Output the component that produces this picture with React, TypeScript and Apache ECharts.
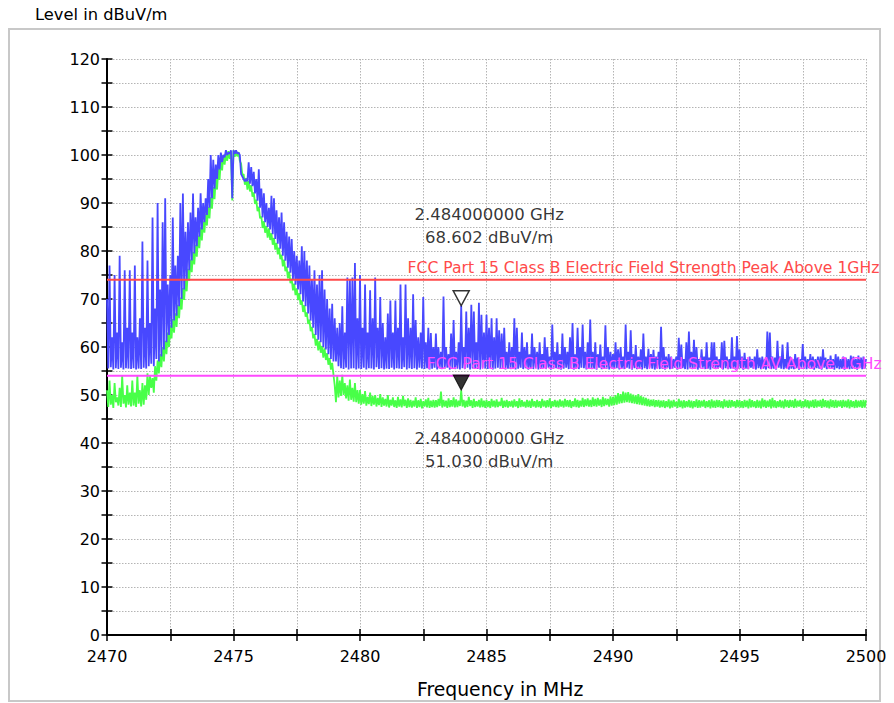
import React, { useEffect, useRef } from 'react';
import * as echarts from 'echarts';

// ---- axis ranges ----
const X_MIN = 2470;
const X_MAX = 2500;
const Y_MIN = 0;
const Y_MAX = 120;

// ---- trace sampling (MHz) ----
const F_START = 2470;
const F_STEP = 0.1;

// ---- Peak trace (blue): spike tops per 0.1 MHz bin ----
const BLUE_HIGH = [
  70, 77, 62, 75, 63, 79, 61, 76, 64, 76,
  63, 77, 62, 66, 82, 64, 78, 65, 87, 68,
  90, 72, 86, 91, 73, 75, 87, 77, 79, 90,
  92, 84, 86, 88, 92, 87, 89, 92, 90, 91,
  95, 100, 99, 98, 100, 100.5, 100, 101, 100.5, 101,
  101, 101, 100.5, 96, 95, 95, 98.5, 97.5, 96.5, 95,
  97, 93, 92, 90, 89, 91.5, 91, 88.5, 87, 88,
  86, 84, 83, 82.5, 80, 79, 78, 81, 80, 78,
  77, 74, 76, 73, 75, 76, 72, 70, 68, 69,
  66, 64, 65, 68.5, 63, 74.5, 74, 74.5, 77.5, 66,
  75, 64, 73, 63, 71.8, 66, 74.5, 64, 70.4, 65,
  62, 67, 69.7, 63, 69.7, 64, 73, 62, 73, 66,
  64, 71, 65.6, 62, 63, 70.4, 61, 64, 62.9, 60,
  62.8, 60, 59, 70.5, 60, 58.5, 62.8, 65.6, 59, 61,
  68.6, 60, 67.4, 64, 68.8, 67.4, 61, 69.2, 66.7, 63,
  66.7, 64, 66, 62, 66, 63.5, 62.8, 64, 59, 61,
  60, 66, 64, 59, 63, 60, 61, 58.5, 62.8, 60,
  59, 61, 58.5, 62, 60, 58, 64.7, 59, 61, 58.5,
  62.8, 60, 59, 62, 65, 58.5, 64, 60, 64.7, 59,
  61, 65.7, 59, 61, 58.5, 60.5, 58, 64.5, 60, 59,
  58.5, 61, 59.5, 60, 58, 64.7, 59, 63.5, 58.5, 60.4,
  58, 59.5, 62.8, 58, 59.6, 58.5, 59.4, 58, 59, 64.2,
  60, 58, 58.5, 58, 57.5, 58, 61.9, 60.5, 57.5, 61,
  63.2, 59, 61.5, 60, 57.5, 59.5, 58, 61, 57.8, 61,
  61, 58, 57.5, 61, 61.3, 58, 57.5, 62, 58, 62.3,
  59.5, 58, 58.8, 57.5, 58, 57.5, 58, 59.5, 57.8, 58,
  57.5, 63.2, 63, 58, 57.8, 61.3, 58, 60.5, 57.5, 61,
  58, 57.5, 58.5, 57.8, 57.5, 60.6, 58, 57.5, 58.5, 58,
  57.5, 58, 58, 59.5, 57.8, 57.5, 58.2, 57.5, 58.5, 58,
  57.5, 58, 57.8, 57.5, 58.2, 58, 57.5, 58.2, 57.8, 58,
  57.5,
];

// ---- Peak trace (blue): floor of each bin ----
const BLUE_LOW = [
  55.5, 55.8, 55.3, 55.6, 55.4, 55.7, 55.3, 55.6, 55.5, 55.4,
  55.6, 55.3, 55.5, 55.4, 55.7, 55.5, 56, 56.5, 56, 57.5,
  57, 58, 59.5, 61, 62.5, 64, 65.5, 66.5, 68.5, 70,
  72, 74, 76, 78, 79.5, 81, 83, 84.5, 86, 87.5,
  89, 91, 93, 95, 97, 98.5, 99.5, 100, 100.3, 91,
  100.3, 100.3, 100, 95.5, 94.5, 94.5, 94, 93.5, 92, 90.5,
  89, 87, 86, 85, 84.5, 83.5, 82.5, 81.5, 80.5, 79,
  78, 76.5, 75.5, 74, 73, 72, 71, 69.5, 68.5, 67,
  65.5, 64, 62.5, 61.5, 61, 60, 59.5, 58.5, 57.5, 57,
  57, 56, 55.6, 55.4, 55.7, 55.3, 55.5, 55.6, 55.3, 55.5,
  55.4, 55.7, 55.3, 55.6, 55.5, 55.3, 55.8, 55.4, 55.6, 55.3,
  55.5, 55.4, 55.7, 55.3, 55.6, 55.5, 55.4, 55.8, 55.3, 55.6,
  55.4, 55.6, 55.3, 55.7, 55.5, 55.4, 55.6, 55.3, 55.5, 55.7,
  55.3, 55.6, 55.4, 55.5, 55.7, 55.3, 55.6, 55.4, 55.5, 55.3,
  55.6, 55.4, 55.7, 55.3, 55.5, 55.6, 55.4, 55.3, 55.7, 55.5,
  55.4, 55.6, 55.3, 55.5, 55.7, 55.4, 55.6, 55.3, 55.5, 55.4,
  55.6, 55.3, 55.5, 55.7, 55.4, 55.6, 55.3, 55.5, 55.4, 55.7,
  55.3, 55.5, 55.6, 55.4, 55.7, 55.3, 55.5, 55.6, 55.4, 55.3,
  55.5, 55.7, 55.4, 55.6, 55.3, 55.5, 55.4, 55.7, 55.6, 55.3,
  55.6, 55.4, 55.5, 55.3, 55.7, 55.4, 55.6, 55.5, 55.3, 55.6,
  55.4, 55.6, 55.3, 55.5, 55.4, 55.7, 55.5, 55.3, 55.6, 55.4,
  55.5, 55.3, 55.6, 55.4, 55.7, 55.5, 55.3, 55.6, 55.4, 55.5,
  55.3, 55.6, 55.4, 55.5, 55.7, 55.3, 55.5, 55.6, 55.4, 55.3,
  55.6, 55.4, 55.5, 55.3, 55.6, 55.7, 55.4, 55.5, 55.3, 55.6,
  55.4, 55.5, 55.7, 55.3, 55.6, 55.4, 55.5, 55.6, 55.3, 55.5,
  55.6, 55.3, 55.5, 55.4, 55.7, 55.5, 55.3, 55.6, 55.4, 55.5,
  55.3, 55.6, 55.4, 55.5, 55.3, 55.7, 55.5, 55.4, 55.6, 55.3,
  55.5, 55.4, 55.6, 55.3, 55.7, 55.5, 55.4, 55.6, 55.5, 55.3,
  55.6, 55.5, 55.3, 55.7, 55.4, 55.6, 55.5, 55.3, 55.6, 55.4,
  55.5, 55.3, 55.6, 55.4, 55.5, 55.7, 55.3, 55.6, 55.4, 55.5,
  55.6,
];

// ---- Average trace (green): top of each bin ----
const GREEN_HIGH = [
  51, 53, 50, 52.5, 49.5, 51.5, 54, 50, 52, 50.5,
  53, 50.5, 54, 51, 52.5, 52, 54.5, 54, 53.5, 56,
  57.2, 58.5, 60, 61.3, 63, 64.5, 65.8, 67, 68.8, 70.3,
  72.3, 74.2, 76.3, 78.2, 79.8, 81.3, 83.2, 84.8, 86.2, 87.8,
  89.2, 91.2, 93.3, 95.2, 97.2, 99, 100, 100.3, 100.8, 100.8,
  101, 101, 100.6, 98.2, 96, 95.2, 94.6, 93.7, 92.2, 90.7,
  89.2, 87.2, 86.2, 85.2, 84.7, 83.7, 82.7, 81.7, 80.7, 79.2,
  78.2, 76.7, 75.7, 74.2, 73.2, 72.2, 71.2, 69.7, 68.7, 67.2,
  65.7, 64.2, 62.7, 61.7, 61.2, 60.2, 59.7, 58.7, 57.7, 56.7,
  52, 54, 53, 54.2, 52.5, 52, 53.2, 51.5, 52.5, 51,
  51, 50.2, 50.8, 49.6, 50.5, 49.8, 50, 49.4, 50.2, 49.5,
  49.2, 50, 49, 49.5, 48.9, 49.6, 49.1, 49.8, 49, 49.3,
  49, 48.8, 49.5, 48.9, 49.2, 48.7, 49.1, 49.4, 48.8, 49,
  48.9, 49.2, 50.7, 49, 48.8, 49.3, 48.9, 49.5, 49.1, 48.8,
  51, 49, 48.8, 49.6, 48.9, 49.2, 48.7, 49, 49.3, 48.8,
  49, 48.7, 49.2, 48.8, 49.1, 48.6, 49.4, 48.8, 49, 48.7,
  48.8, 49.1, 48.7, 49.3, 48.9, 48.6, 49, 48.8, 49.2, 48.7,
  49, 48.7, 49.2, 48.8, 48.9, 49.3, 48.7, 49, 48.8, 49.1,
  48.8, 49.2, 48.9, 49, 48.7, 49.3, 49, 48.8, 49.4, 49.1,
  49.3, 49, 49.5, 49.2, 49.4, 49.1, 49.6, 49.3, 49.2, 49.7,
  49.6, 50, 50.4, 50.2, 50.7, 50.5, 50.6, 50.3, 50.1, 49.9,
  50.2, 49.8, 49.6, 49.4, 49.2, 49, 49.1, 48.9, 49, 48.8,
  48.9, 48.7, 49.1, 48.8, 49, 48.6, 49.2, 48.8, 48.9, 48.7,
  49, 48.8, 48.7, 49.1, 48.9, 48.8, 49, 48.7, 48.9, 49.1,
  48.8, 49, 48.9, 48.7, 49.1, 48.8, 49, 48.9, 48.7, 49,
  48.9, 48.7, 49, 48.8, 49.2, 48.9, 48.7, 49, 48.8, 49.3,
  49, 48.8, 49.1, 49.4, 48.9, 48.7, 49, 48.8, 49.1, 48.9,
  49, 48.9, 49.2, 48.8, 49, 48.7, 49.1, 48.9, 48.8, 49,
  49.1, 48.8, 49, 49.2, 48.9, 48.8, 49.1, 48.9, 49, 48.8,
  48.9, 49, 48.8, 49.1, 48.9, 48.7, 49, 48.8, 48.9, 49,
  48.9,
];

// ---- Average trace (green): floor of each bin ----
const GREEN_LOW = [
  47.5, 48, 47.3, 48.5, 47.8, 47.5, 48.2, 47.4, 48, 47.6,
  47.8, 47.5, 48.2, 47.6, 48, 49, 50, 51.5, 50.5, 53,
  54.5, 55.8, 57, 58.5, 60, 61.8, 63, 64.2, 66, 67.8,
  69.8, 71.6, 73.8, 75.6, 77.2, 78.8, 80.6, 82.2, 83.8, 85.3,
  86.8, 88.8, 90.8, 92.8, 94.8, 96.8, 98, 98.8, 99.2, 90.5,
  99.6, 99.7, 98.8, 95.8, 93.8, 92.8, 92.4, 91.3, 89.8, 88.3,
  86.8, 84.8, 83.8, 82.8, 82.3, 81.3, 80.3, 79.3, 78.3, 76.8,
  75.8, 74.3, 73.3, 71.8, 70.8, 69.8, 68.8, 67.3, 66.3, 64.8,
  63.3, 61.8, 60.3, 59.3, 58.8, 57.8, 57.3, 56.3, 55.3, 54.3,
  48.5, 49.5, 49.8, 50, 49.3, 48.8, 49, 48.6, 48.5, 48.2,
  48, 48.2, 47.8, 48.1, 47.7, 48, 47.6, 47.9, 47.5, 47.8,
  47.6, 47.4, 47.8, 47.5, 47.3, 47.6, 47.4, 47.7, 47.3, 47.5,
  47.4, 47.6, 47.3, 47.5, 47.2, 47.6, 47.4, 47.3, 47.5, 47.4,
  47.5, 47.7, 47.4, 47.6, 47.3, 47.5, 47.6, 47.4, 47.5, 47.7,
  47.6, 47.4, 47.5, 47.7, 47.3, 47.5, 47.6, 47.4, 47.5, 47.3,
  47.5, 47.3, 47.6, 47.4, 47.5, 47.7, 47.3, 47.5, 47.4, 47.6,
  47.4, 47.6, 47.3, 47.5, 47.6, 47.4, 47.5, 47.3, 47.6, 47.4,
  47.5, 47.3, 47.6, 47.4, 47.5, 47.3, 47.6, 47.5, 47.4, 47.6,
  47.4, 47.6, 47.5, 47.3, 47.6, 47.5, 47.4, 47.6, 47.5, 47.7,
  47.6, 47.5, 47.7, 47.6, 47.8, 47.5, 47.7, 47.9, 47.6, 47.8,
  47.9, 48, 48.2, 48.3, 48.4, 48.5, 48.4, 48.3, 48.2, 48.1,
  48, 47.9, 47.8, 47.7, 47.6, 47.7, 47.5, 47.6, 47.4, 47.5,
  47.3, 47.5, 47.2, 47.4, 47.6, 47.3, 47.5, 47.2, 47.4, 47.5,
  47.4, 47.2, 47.5, 47.3, 47.4, 47.6, 47.3, 47.5, 47.2, 47.4,
  47.3, 47.5, 47.4, 47.2, 47.5, 47.3, 47.4, 47.6, 47.3, 47.5,
  47.4, 47.3, 47.5, 47.2, 47.4, 47.5, 47.3, 47.4, 47.2, 47.5,
  47.3, 47.5, 47.2, 47.4, 47.3, 47.5, 47.4, 47.2, 47.5, 47.3,
  47.5, 47.3, 47.4, 47.6, 47.3, 47.5, 47.4, 47.2, 47.5, 47.3,
  47.4, 47.6, 47.3, 47.5, 47.4, 47.2, 47.5, 47.3, 47.4, 47.6,
  47.3, 47.5, 47.4, 47.2, 47.5, 47.3, 47.4, 47.5, 47.3, 47.4,
  47.5,
];

// ---- limits ----
const PEAK_LIMIT = 74;
const AV_LIMIT = 54;
const PEAK_LIMIT_NAME = 'FCC Part 15 Class B Electric Field Strength Peak Above 1GHz';
const AV_LIMIT_NAME = 'FCC Part 15 Class B Electric Field Strength AV Above 1GHz';
const PEAK_LABEL_FREQ = 2481.9;
const AV_LABEL_FREQ = 2482.65;

// ---- markers ----
const MARKER_FREQS = [2484, 2484];
const MARKER_LEVELS = [68.602, 51.03];

const FONT = 'DejaVu Sans';
const BLUE = '#4848ff';
const GREEN = '#48ff48';
const RED = '#ff4a4a';
const MAGENTA = '#ff4aff';
const GRID_LINE = { color: '#b4b4b4', type: [1.5, 1.5] as any, width: 1 };

function traceZigzag(high: number[], low: number[]): number[][] {
  const pts: number[][] = [];
  for (let i = 0; i < high.length; i++) {
    const f = Math.round((F_START + i * F_STEP) * 1000) / 1000;
    pts.push([f, high[i]]);
    if (i < high.length - 1) {
      pts.push([Math.round((f + F_STEP / 2) * 1000) / 1000, low[i]]);
    }
  }
  return pts;
}

function markerText(freqMHz: number, level: number): string {
  return `${(freqMHz / 1000).toFixed(9)} GHz\n${level.toFixed(3)} dBuV/m`;
}

export default function App() {
  const ref = useRef<HTMLDivElement>(null);

  useEffect(() => {
    if (!ref.current) return;
    const chart = echarts.init(ref.current, undefined, { renderer: 'svg' });

    const tickStyle = { color: '#000', width: 1.5 };
    const limitLabel = (text: string, color: string) => ({
      show: true,
      position: 'right',
      distance: 0,
      offset: [-1, -12],
      formatter: text,
      color,
      fontFamily: FONT,
      fontSize: 15.6,
    });

    const option: any = {
      animation: false,
      backgroundColor: '#ffffff',
      textStyle: { fontFamily: FONT },
      grid: { left: 107, right: 28, top: 59, bottom: 68, containLabel: false },
      xAxis: [
        {
          type: 'value',
          position: 'bottom',
          min: X_MIN,
          max: X_MAX,
          interval: 5,
          axisLine: { show: true, onZero: false, lineStyle: { color: '#000', width: 2 } },
          axisTick: { show: true, length: 6, lineStyle: tickStyle },
          minorTick: { show: true, splitNumber: 2, length: 6, lineStyle: tickStyle },
          axisLabel: {
            color: '#000',
            fontSize: 16,
            fontFamily: FONT,
            margin: 13,
            formatter: (v: number) => String(v),
          },
          splitLine: { show: true, lineStyle: GRID_LINE },
          minorSplitLine: { show: true, lineStyle: GRID_LINE },
        },
        {
          type: 'value',
          position: 'bottom',
          offset: 0,
          min: X_MIN,
          max: X_MAX,
          interval: 5,
          axisLine: { show: false, onZero: false },
          axisTick: { show: true, inside: true, length: 6, lineStyle: tickStyle },
          minorTick: { show: true, splitNumber: 2, length: 6, lineStyle: tickStyle },
          axisLabel: { show: false },
          splitLine: { show: false },
        },
      ],
      yAxis: [
        {
          type: 'value',
          position: 'left',
          min: Y_MIN,
          max: Y_MAX,
          interval: 10,
          axisLine: { show: true, onZero: false, lineStyle: { color: '#000', width: 2 } },
          axisTick: { show: true, length: 5.5, lineStyle: tickStyle },
          minorTick: { show: true, splitNumber: 2, length: 5.5, lineStyle: tickStyle },
          axisLabel: { color: '#000', fontSize: 16, fontFamily: FONT, margin: 7 },
          splitLine: { show: true, lineStyle: GRID_LINE },
          minorSplitLine: { show: true, lineStyle: GRID_LINE },
        },
        {
          type: 'value',
          position: 'left',
          offset: 0,
          min: Y_MIN,
          max: Y_MAX,
          interval: 10,
          axisLine: { show: false, onZero: false },
          axisTick: { show: true, inside: true, length: 5.5, lineStyle: tickStyle },
          minorTick: { show: true, splitNumber: 2, length: 5.5, lineStyle: tickStyle },
          axisLabel: { show: false },
          splitLine: { show: false },
        },
      ],
      graphic: [
        {
          type: 'rect',
          silent: true,
          z: -10,
          shape: { x: 9, y: 29, width: 871, height: 672 },
          style: { fill: 'none', stroke: '#c8c8c8', lineWidth: 2 },
        },
        {
          type: 'text',
          left: 35,
          top: 6,
          style: { text: 'Level in dBuV/m', fill: '#000', font: `16.3px "${FONT}"` },
        },
        {
          type: 'text',
          left: 417,
          top: 680,
          style: { text: 'Frequency in MHz', fill: '#000', font: `18.8px "${FONT}"` },
        },
      ],
      series: [
        {
          name: 'Average',
          type: 'line',
          data: traceZigzag(GREEN_HIGH, GREEN_LOW),
          showSymbol: false,
          symbol: 'none',
          silent: true,
          z: 2,
          lineStyle: { color: GREEN, width: 1.8, join: 'bevel' },
        },
        {
          name: 'Peak',
          type: 'line',
          data: traceZigzag(BLUE_HIGH, BLUE_LOW),
          showSymbol: false,
          symbol: 'none',
          silent: true,
          z: 3,
          lineStyle: { color: BLUE, width: 1.8, join: 'bevel' },
        },
        {
          name: 'Peak limit',
          type: 'line',
          data: [[X_MIN, PEAK_LIMIT], [X_MAX, PEAK_LIMIT]],
          showSymbol: false,
          symbol: 'none',
          silent: true,
          z: 4,
          lineStyle: { color: RED, width: 2 },
          markPoint: {
            silent: true,
            symbol: 'circle',
            symbolSize: 1,
            itemStyle: { color: 'rgba(0,0,0,0)' },
            label: limitLabel(PEAK_LIMIT_NAME, RED),
            data: [{ coord: [PEAK_LABEL_FREQ, PEAK_LIMIT] }],
          },
        },
        {
          name: 'AV limit',
          type: 'line',
          data: [[X_MIN, AV_LIMIT], [X_MAX, AV_LIMIT]],
          showSymbol: false,
          symbol: 'none',
          silent: true,
          z: 4,
          lineStyle: { color: MAGENTA, width: 2 },
          markPoint: {
            silent: true,
            symbol: 'circle',
            symbolSize: 1,
            itemStyle: { color: 'rgba(0,0,0,0)' },
            label: limitLabel(AV_LIMIT_NAME, MAGENTA),
            data: [{ coord: [AV_LABEL_FREQ, AV_LIMIT] }],
          },
        },
        {
          name: 'Markers',
          type: 'scatter',
          silent: true,
          z: 6,
          symbol: 'path://M0 0L20 0L10 19Z',
          symbolSize: [16, 15],
          symbolKeepAspect: false,
          symbolOffset: [0, '-50%'],
          data: [
            {
              value: [MARKER_FREQS[0], MARKER_LEVELS[0]],
              itemStyle: { color: '#ffffff', borderColor: '#000', borderWidth: 1.5 },
              label: {
                show: true,
                position: 'top',
                offset: [28, -36],
                align: 'center',
                lineHeight: 23,
                fontSize: 16.5,
                fontFamily: FONT,
                color: '#000',
                formatter: markerText(MARKER_FREQS[0], MARKER_LEVELS[0]),
              },
            },
            {
              value: [MARKER_FREQS[1], MARKER_LEVELS[1]],
              itemStyle: { color: '#000', borderColor: '#000', borderWidth: 1 },
              label: {
                show: true,
                position: 'bottom',
                offset: [28, 31],
                align: 'center',
                lineHeight: 23,
                fontSize: 16.5,
                fontFamily: FONT,
                color: '#000',
                formatter: markerText(MARKER_FREQS[1], MARKER_LEVELS[1]),
              },
            },
          ],
        },
      ],
    };

    chart.setOption(option);
    return () => chart.dispose();
  }, []);

  return (
    <div
      ref={ref}
      style={{ position: 'fixed', left: 0, top: 0, width: 894, height: 703, background: '#fff' }}
    />
  );
}
